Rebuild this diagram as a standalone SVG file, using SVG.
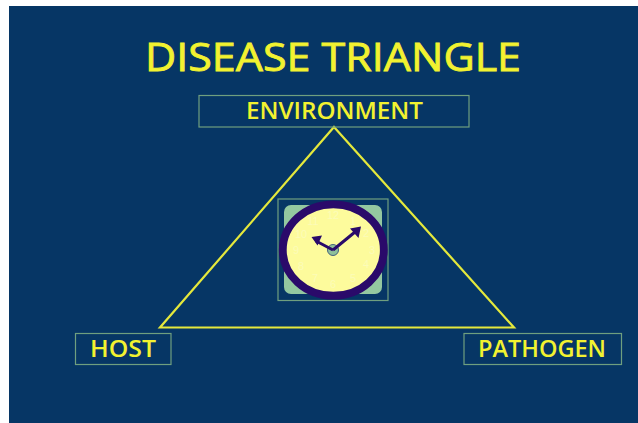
<svg xmlns="http://www.w3.org/2000/svg" width="638" height="423" viewBox="0 0 638 423">
<style>
.box{fill:none;stroke:#6f9f7f;stroke-width:1.2}
.lab{font-family:"Comic Sans MS","Open Sans","DejaVu Sans",sans-serif;font-weight:600;font-size:23px;fill:#f2f230;text-anchor:middle}
.num{font-family:"Liberation Sans",sans-serif;font-size:11px;fill:#fcfcb8;text-anchor:middle}
.hand{stroke:#2a0a6a;stroke-width:3;fill:none}
</style>
<rect width="638" height="423" fill="#ffffff"/>
<rect x="9" y="6" width="629" height="417" fill="#063665"/>
<g id="title"><text class="lab" x="333" y="71" style="font-size:38px;font-weight:400;stroke:#f2f230;stroke-width:.8" textLength="376" lengthAdjust="spacingAndGlyphs">DISEASE TRIANGLE</text></g>
<g id="connectors"><path d="M334 127L514 327.500H160Z" fill="none" stroke="#e4e83c" stroke-width="2.200"/></g>
<g id="environment"><rect class="box" x="199" y="95.500" width="270" height="31.500"/><text class="lab" x="334.500" y="119" textLength="177" lengthAdjust="spacingAndGlyphs">ENVIRONMENT</text></g>
<g id="host"><rect class="box" x="75.500" y="333.500" width="95.500" height="31"/><text class="lab" x="123" y="356.500" textLength="66" lengthAdjust="spacingAndGlyphs">HOST</text></g>
<g id="pathogen"><rect class="box" x="464" y="333.500" width="157.500" height="31"/><text class="lab" x="542" y="356.500" textLength="128" lengthAdjust="spacingAndGlyphs">PATHOGEN</text></g>
<g id="clock">
<rect class="box" x="278" y="199" width="110" height="101.500"/>
<rect x="284" y="205" width="98" height="89" rx="7" fill="#94c8a0"/>
<ellipse cx="333.300" cy="250" rx="50.500" ry="45.700" fill="#fdfb9c" stroke="#2a0a6a" stroke-width="7.800"/>
<text class="num" x="333" y="219">12</text><text class="num" x="313" y="225">11</text><text class="num" x="301" y="238">10</text><text class="num" x="296" y="254">9</text><text class="num" x="301" y="270">8</text><text class="num" x="315" y="282">7</text><text class="num" x="333" y="288">6</text><text class="num" x="353" y="282">5</text><text class="num" x="366" y="268">4</text><text class="num" x="372" y="254">3</text><text class="num" x="366" y="237">2</text><text class="num" x="353" y="225">1</text>
<circle cx="333" cy="250" r="5.500" fill="#8fc09a" stroke="#44607f" stroke-width="1"/>
<path class="hand" d="M333 250L316 241M333 250L355 232"/>
<path d="M311.500 237L322 235.500L317.500 245.500ZM361 226.500L358.500 238L350 228.500Z" fill="#2a0a6a"/>
</g>
</svg>
